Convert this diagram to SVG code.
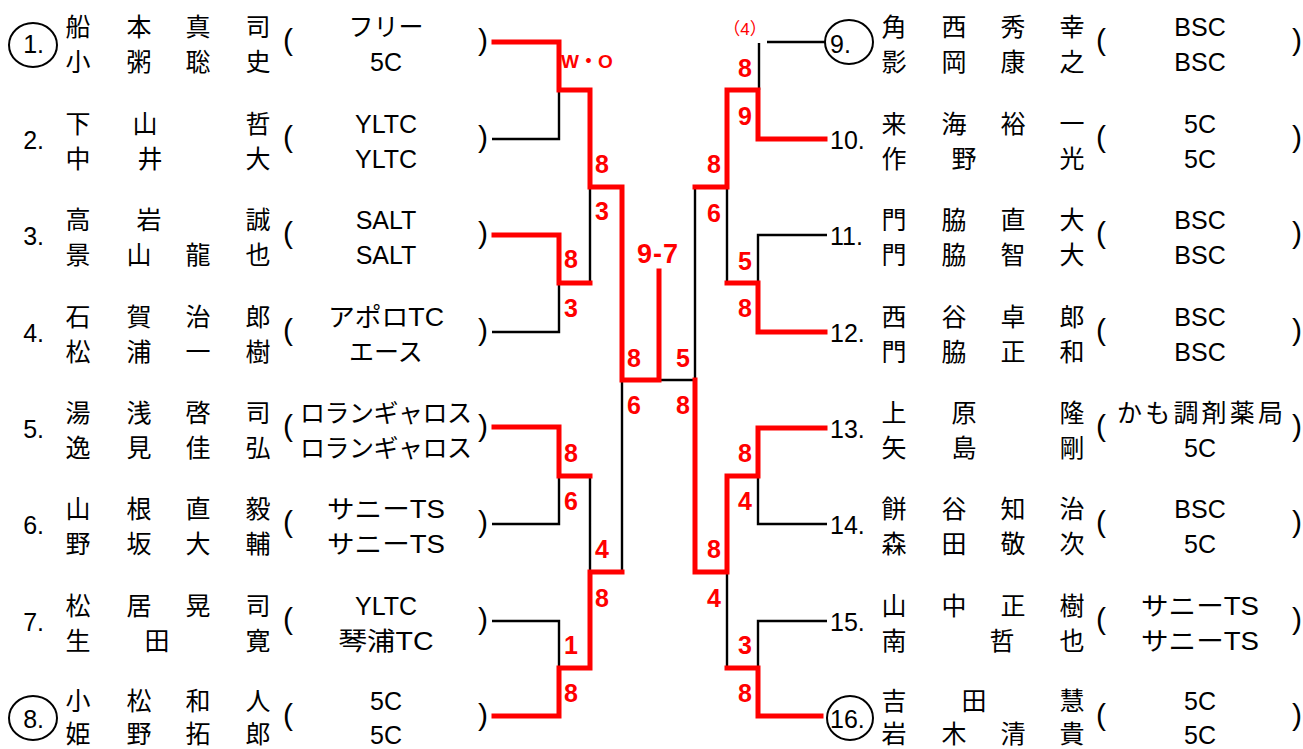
<svg xmlns="http://www.w3.org/2000/svg" width="1303" height="749" viewBox="0 0 1303 749">
<style>
text{font-family:"Liberation Sans","Noto Sans CJK JP",sans-serif;fill:#000}
.nm{font-family:"Noto Sans CJK JP",sans-serif;font-size:25px;text-anchor:middle}
.tm{font-size:25px;text-anchor:middle}
.no{font-size:25px;text-anchor:end}
.nr{font-size:25px;text-anchor:start}
.pa{font-size:30px;text-anchor:middle}
.ring{fill:none;stroke:#000;stroke-width:2}
.sc{font-weight:bold;font-size:25px;fill:#f00;text-anchor:middle}
.blk{fill:none;stroke:#000;stroke-width:2.4}
.red{fill:none;stroke:#f00;stroke-width:5;stroke-linejoin:miter;stroke-linecap:square}
</style>
<rect width="1303" height="749" fill="#fff"/>

<g id="entry-1">
<ellipse class="ring" cx="33" cy="45" rx="24" ry="22"/>
<text class="no" x="44" y="53">1.</text>
<text class="nm" x="78 139 198 258" y="36">船本真司</text>
<text class="nm" x="78 139 198 258" y="71">小粥聡史</text>
<text class="pa" x="288" y="50">(</text><text class="pa" x="483" y="50">)</text>
<text class="tm" x="386" y="36">フリー</text>
<text class="tm" x="386" y="71">5C</text>
</g>
<g id="entry-2">
<text class="no" x="44" y="149">2.</text>
<text class="nm" x="78 145 258" y="133">下山哲</text>
<text class="nm" x="78 150 258" y="168">中井大</text>
<text class="pa" x="288" y="147">(</text><text class="pa" x="483" y="147">)</text>
<text class="tm" x="386" y="133">YLTC</text>
<text class="tm" x="386" y="168">YLTC</text>
</g>
<g id="entry-3">
<text class="no" x="44" y="245">3.</text>
<text class="nm" x="78 149 258" y="229">高岩誠</text>
<text class="nm" x="78 139 198 258" y="264">景山龍也</text>
<text class="pa" x="288" y="243">(</text><text class="pa" x="483" y="243">)</text>
<text class="tm" x="386" y="229">SALT</text>
<text class="tm" x="386" y="264">SALT</text>
</g>
<g id="entry-4">
<text class="no" x="44" y="342">4.</text>
<text class="nm" x="78 139 198 258" y="326">石賀治郎</text>
<text class="nm" x="78 139 198 258" y="361">松浦一樹</text>
<text class="pa" x="288" y="340">(</text><text class="pa" x="483" y="340">)</text>
<text class="tm" x="386" y="326" textLength="116" lengthAdjust="spacingAndGlyphs">アポロTC</text>
<text class="tm" x="386" y="361">エース</text>
</g>
<g id="entry-5">
<text class="no" x="44" y="438">5.</text>
<text class="nm" x="78 139 198 258" y="422">湯浅啓司</text>
<text class="nm" x="78 139 198 258" y="457">逸見佳弘</text>
<text class="pa" x="288" y="436">(</text><text class="pa" x="483" y="436">)</text>
<text class="tm" x="386" y="422" textLength="172">ロランギャロス</text>
<text class="tm" x="386" y="457" textLength="172">ロランギャロス</text>
</g>
<g id="entry-6">
<text class="no" x="44" y="534">6.</text>
<text class="nm" x="78 139 198 258" y="518">山根直毅</text>
<text class="nm" x="78 139 198 258" y="553">野坂大輔</text>
<text class="pa" x="288" y="532">(</text><text class="pa" x="483" y="532">)</text>
<text class="tm" x="386" y="518" textLength="118" lengthAdjust="spacingAndGlyphs">サニーTS</text>
<text class="tm" x="386" y="553" textLength="118" lengthAdjust="spacingAndGlyphs">サニーTS</text>
</g>
<g id="entry-7">
<text class="no" x="44" y="631">7.</text>
<text class="nm" x="78 139 198 258" y="615">松居晃司</text>
<text class="nm" x="78 157 258" y="650">生田寛</text>
<text class="pa" x="288" y="629">(</text><text class="pa" x="483" y="629">)</text>
<text class="tm" x="386" y="615">YLTC</text>
<text class="tm" x="386" y="650" textLength="95" lengthAdjust="spacingAndGlyphs">琴浦TC</text>
</g>
<g id="entry-8">
<ellipse class="ring" cx="33" cy="718" rx="24" ry="22"/>
<text class="no" x="44" y="728">8.</text>
<text class="nm" x="78 139 198 258" y="710">小松和人</text>
<text class="nm" x="78 139 198 258" y="743">姫野拓郎</text>
<text class="pa" x="288" y="725">(</text><text class="pa" x="483" y="725">)</text>
<text class="tm" x="386" y="710">5C</text>
<text class="tm" x="386" y="744">5C</text>
</g>

<g id="entry-9">
<ellipse class="ring" cx="849" cy="42" rx="24" ry="22"/>
<text class="nr" x="830" y="53">9.</text>
<text class="nm" x="894 954 1013 1072" y="36">角西秀幸</text>
<text class="nm" x="894 954 1013 1072" y="71">影岡康之</text>
<text class="pa" x="1101" y="50">(</text><text class="pa" x="1297" y="50">)</text>
<text class="tm" x="1200" y="36">BSC</text>
<text class="tm" x="1200" y="71">BSC</text>
</g>
<g id="entry-10">
<text class="nr" x="830" y="149">10.</text>
<text class="nm" x="894 954 1013 1072" y="133">来海裕一</text>
<text class="nm" x="894 964 1072" y="168">作野光</text>
<text class="pa" x="1101" y="147">(</text><text class="pa" x="1297" y="147">)</text>
<text class="tm" x="1200" y="133">5C</text>
<text class="tm" x="1200" y="168">5C</text>
</g>
<g id="entry-11">
<text class="nr" x="830" y="245">11.</text>
<text class="nm" x="894 954 1013 1072" y="229">門脇直大</text>
<text class="nm" x="894 954 1013 1072" y="264">門脇智大</text>
<text class="pa" x="1101" y="243">(</text><text class="pa" x="1297" y="243">)</text>
<text class="tm" x="1200" y="229">BSC</text>
<text class="tm" x="1200" y="264">BSC</text>
</g>
<g id="entry-12">
<text class="nr" x="830" y="342">12.</text>
<text class="nm" x="894 954 1013 1072" y="326">西谷卓郎</text>
<text class="nm" x="894 954 1013 1072" y="361">門脇正和</text>
<text class="pa" x="1101" y="340">(</text><text class="pa" x="1297" y="340">)</text>
<text class="tm" x="1200" y="326">BSC</text>
<text class="tm" x="1200" y="361">BSC</text>
</g>
<g id="entry-13">
<text class="nr" x="830" y="438">13.</text>
<text class="nm" x="894 964 1072" y="422">上原隆</text>
<text class="nm" x="894 964 1072" y="457">矢島剛</text>
<text class="pa" x="1101" y="436">(</text><text class="pa" x="1297" y="436">)</text>
<text class="tm" x="1200" y="422" textLength="166">かも調剤薬局</text>
<text class="tm" x="1200" y="457">5C</text>
</g>
<g id="entry-14">
<text class="nr" x="830" y="534">14.</text>
<text class="nm" x="894 954 1013 1072" y="518">餅谷知治</text>
<text class="nm" x="894 954 1013 1072" y="553">森田敬次</text>
<text class="pa" x="1101" y="532">(</text><text class="pa" x="1297" y="532">)</text>
<text class="tm" x="1200" y="518">BSC</text>
<text class="tm" x="1200" y="553">5C</text>
</g>
<g id="entry-15">
<text class="nr" x="830" y="631">15.</text>
<text class="nm" x="894 954 1013 1072" y="615">山中正樹</text>
<text class="nm" x="894 1002 1072" y="650">南哲也</text>
<text class="pa" x="1101" y="629">(</text><text class="pa" x="1297" y="629">)</text>
<text class="tm" x="1200" y="615" textLength="118" lengthAdjust="spacingAndGlyphs">サニーTS</text>
<text class="tm" x="1200" y="650" textLength="118" lengthAdjust="spacingAndGlyphs">サニーTS</text>
</g>
<g id="entry-16">
<ellipse class="ring" cx="850" cy="718" rx="23" ry="22"/>
<text class="nr" x="830" y="728">16.</text>
<text class="nm" x="894 974 1072" y="710">吉田慧</text>
<text class="nm" x="894 954 1013 1072" y="743">岩木清貴</text>
<text class="pa" x="1101" y="725">(</text><text class="pa" x="1297" y="725">)</text>
<text class="tm" x="1200" y="710">5C</text>
<text class="tm" x="1200" y="744">5C</text>
</g>

<g id="connectors">
<path class="blk" d="M492,139H559V90M492,332H559V283M590,187V283M492,524H559V476M590,476V572M492,621H559V668M622,380V572M659,380H695"/>
<path class="blk" d="M767,42H825M759,43V90M827,235H758V283M727,187V283M695,187V380M827,524H758V476M727,572V668M827,621H758V668"/>
<path class="red" d="M494,42H559V90H590V187H622V380H659V271"/>
<path class="red" d="M494,235H559V283H590"/>
<path class="red" d="M494,427H559V476H590"/>
<path class="red" d="M494,716H559V668H590V572H622"/>
<path class="red" d="M825,139H758V90H730M727,90V187H695"/>
<path class="red" d="M825,332H758V283H727"/>
<path class="red" d="M825,428H758V476H727V572H695V380"/>
<path class="red" d="M821,716H758V668H727"/>
</g>

<g id="scores">
<text x="561" y="68" style="font-weight:bold;font-size:19px;fill:#f00">W・O</text>
<text x="745" y="35" style="font-size:17px;fill:#f00;text-anchor:middle">（4）</text>
<text class="sc" x="658" y="263" style="font-size:27px;letter-spacing:1px">9-7</text>
<text class="sc" x="602" y="173">8</text>
<text class="sc" x="602" y="220">3</text>
<text class="sc" x="571" y="268">8</text>
<text class="sc" x="571" y="317">3</text>
<text class="sc" x="634" y="367">8</text>
<text class="sc" x="683" y="367">5</text>
<text class="sc" x="634" y="414">6</text>
<text class="sc" x="683" y="414">8</text>
<text class="sc" x="571" y="462">8</text>
<text class="sc" x="571" y="510">6</text>
<text class="sc" x="602" y="558">4</text>
<text class="sc" x="602" y="607">8</text>
<text class="sc" x="571" y="654">1</text>
<text class="sc" x="571" y="702">8</text>
<text class="sc" x="745" y="77">8</text>
<text class="sc" x="745" y="125">9</text>
<text class="sc" x="714" y="173">8</text>
<text class="sc" x="714" y="222">6</text>
<text class="sc" x="745" y="270">5</text>
<text class="sc" x="745" y="317">8</text>
<text class="sc" x="745" y="462">8</text>
<text class="sc" x="745" y="510">4</text>
<text class="sc" x="714" y="558">8</text>
<text class="sc" x="714" y="607">4</text>
<text class="sc" x="745" y="654">3</text>
<text class="sc" x="745" y="702">8</text>
</g>
</svg>
